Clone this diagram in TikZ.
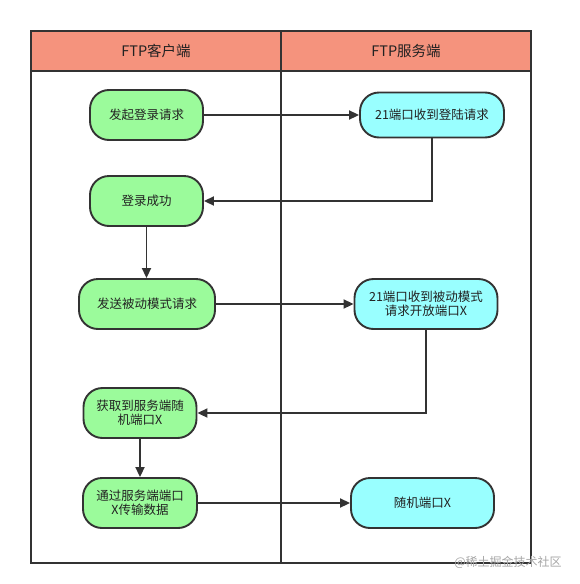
\documentclass[tikz,border=0pt]{standalone}
\usepackage{fontspec}
\setmainfont{Noto Sans CJK SC}
\usetikzlibrary{arrows.meta}
\definecolor{hdr}{HTML}{F5937D}
\definecolor{grn}{HTML}{9BFB9B}
\definecolor{cyn}{HTML}{99FFFF}
\definecolor{ln}{HTML}{333333}
\definecolor{txt}{HTML}{222222}
\tikzset{
  box/.style={draw=ln, line width=1.9pt, rounded corners=19pt, inner sep=0pt,
    align=center, text=txt, font=\fontsize{12.5}{14.5}\selectfont},
  gbox/.style={box, fill=grn},
  cbox/.style={box, fill=cyn},
  frame/.style={draw=ln, line width=1.9pt},
  conn/.style={draw=ln, line width=1.9pt, -{Triangle[length=10pt,width=9pt]}},
}
\begin{document}
\begin{tikzpicture}[x=1pt,y=-1pt]
\useasboundingbox (0,0) rectangle (579,584);
% header
\fill[hdr] (31,31) rectangle (531,71);
\draw[frame] (31,31) rectangle (531,563);
\draw[frame] (31,71) -- (531,71);
\draw[frame] (281,31) -- (281,563);
\node[text=txt, font=\fontsize{14.5}{16}\selectfont] (h1) at (156,51) {FTP客户端};
\node[text=txt, font=\fontsize{14.5}{16}\selectfont] (h2) at (406,51) {FTP服务端};
% nodes
\node[gbox, minimum width=113pt, minimum height=50pt] (n1) at (146.5,115) {发起登录请求};
\node[cbox, minimum width=144pt, minimum height=45pt] (n2) at (432,115) {21端口收到登陆请求};
\node[gbox, minimum width=113pt, minimum height=50pt] (n3) at (146.5,201) {登录成功};
\node[gbox, minimum width=136pt, minimum height=50pt] (n4) at (147,304) {发送被动模式请求};
\node[cbox, minimum width=143pt, minimum height=50pt] (n5) at (426,304) {21端口收到被动模式\\请求开放端口X};
\node[gbox, minimum width=113pt, minimum height=50pt] (n6) at (140,413) {获取到服务端随\\机端口X};
\node[gbox, minimum width=114pt, minimum height=50pt] (n7) at (140,503) {通过服务端端口\\X传输数据};
\node[cbox, minimum width=143pt, minimum height=50pt] (n8) at (422.5,503) {随机端口X};
% connectors
\draw[conn] (n1.east) -- (n2.west);
\draw[conn] (n2.south) |- (n3.east);
\draw[conn] (n3.south) -- (n3.south |- n4.north);
\draw[conn] (n4.east) -- (n5.west);
\draw[conn] (n5.south) |- (n6.east);
\draw[conn] (n6.south) -- (n6.south |- n7.north);
\draw[conn] (n7.east) -- (n8.west);
% watermark
\node[text=black!35, font=\fontsize{12}{14}\selectfont] (wm) at (508,562) {@稀土掘金技术社区};
\end{tikzpicture}
\end{document}
